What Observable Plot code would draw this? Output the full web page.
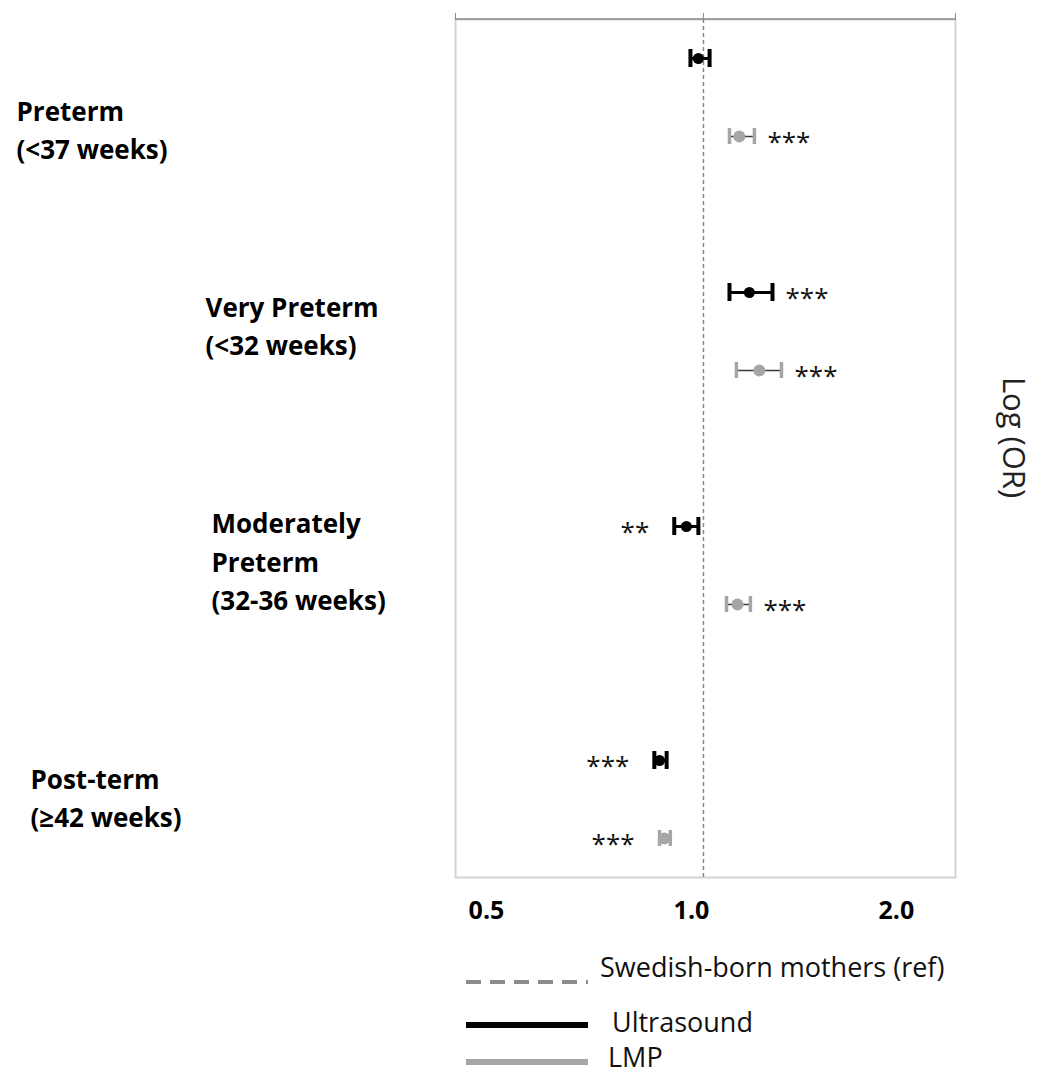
<!DOCTYPE html>
<html>
<head>
<meta charset="utf-8">
<script src="https://cdn.jsdelivr.net/npm/d3@7"></script>
<script src="https://cdn.jsdelivr.net/npm/@observablehq/plot@0.6"></script>
<style>
  html, body { margin: 0; padding: 0; background: #fff; }
  body { font-family: "Open Sans", sans-serif; width: 1042px; }
  #chart svg, #legend svg { display: block; }
</style>
</head>
<body>
<div id="chart"></div>
<div id="legend"></div>
<script>
// ---- data ----
const groups = ["Preterm", "Very Preterm", "Moderately Preterm", "Post-term"];
const groupLines = [
  ["Preterm", "(<37 weeks)"],
  ["Very Preterm", "(<32 weeks)"],
  ["Moderately", "Preterm", "(32-36 weeks)"],
  ["Post-term", "(≥42 weeks)"]
];
const methods = ["Ultrasound", "LMP"];
const orUS  = [0.983, 1.168, 0.944, 0.862];
const loUS  = [0.957, 1.092, 0.906, 0.847];
const hiUS  = [1.021, 1.263, 0.983, 0.883];
const orLMP = [1.129, 1.208, 1.122, 0.876];
const loLMP = [1.092, 1.118, 1.081, 0.862];
const hiLMP = [1.188, 1.302, 1.172, 0.894];
const sigUS  = ["", "***", "**", "***"];
const sigLMP = ["***", "***", "***", "***"];
const xTicks = [0.5, 1, 2];
const xDomain = [0.4324, 2.345];
const refValue = 1;
const axisTitle = "Log (OR)";
const legendLabels = ["Swedish-born mothers (ref)", "Ultrasound", "LMP"];

// ---- build table ----
const rows = [];
const slots = [];
groups.forEach((g, i) => {
  if (i > 0) slots.push("gap" + i);
  const series = [
    ["Ultrasound", orUS, loUS, hiUS, sigUS],
    ["LMP", orLMP, loLMP, hiLMP, sigLMP]
  ];
  series.forEach(([m, or, lo, hi, sig]) => {
    const key = g + "|" + m;
    slots.push(key);
    rows.push({group: g, method: m, key, or: or[i], lo: lo[i], hi: hi[i], sig: sig[i]});
  });
});
const us = rows.filter(d => d.method === "Ultrasound");
const lmp = rows.filter(d => d.method === "LMP");

const BLACK = "#000000";
const GREY = "#a6a6a6";
const DARK = "#3a3a3a";

// label layout offsets (px) relative to the left edge of the frame and the group's first row
const labelLayout = [
  {dx: -439, dy: 69},
  {dx: -250, dy: 31},
  {dx: -244, dy: 33},
  {dx: -425, dy: 35}
];

const marks = [
  Plot.frame({stroke: "#d3d3d3", strokeWidth: 2}),
  Plot.ruleX([refValue], {stroke: "#8a8a8a", strokeWidth: 1.5, strokeDasharray: "4,3"}),
  // Ultrasound
  Plot.ruleY(us, {y: "key", x1: "lo", x2: "hi", stroke: BLACK, strokeWidth: 3}),
  Plot.tickX(us, {x: "lo", y: "key", stroke: BLACK, strokeWidth: 4, insetTop: 30, insetBottom: 30}),
  Plot.tickX(us, {x: "hi", y: "key", stroke: BLACK, strokeWidth: 4, insetTop: 30, insetBottom: 30}),
  Plot.dot(us, {x: "or", y: "key", r: 5.5, fill: BLACK, stroke: "none"}),
  // LMP
  Plot.ruleY(lmp, {y: "key", x1: "lo", x2: "hi", stroke: DARK, strokeWidth: 1.5}),
  Plot.tickX(lmp, {x: "lo", y: "key", stroke: GREY, strokeWidth: 3.5, insetTop: 31, insetBottom: 31}),
  Plot.tickX(lmp, {x: "hi", y: "key", stroke: GREY, strokeWidth: 3.5, insetTop: 31, insetBottom: 31}),
  Plot.dot(lmp, {x: "or", y: "key", r: 6, fill: GREY, stroke: "none"}),
  // significance stars
  Plot.text(rows.filter(d => d.sig && d.or >= 1), {x: "hi", y: "key", text: "sig", textAnchor: "start", dx: 13, dy: 6, fontSize: 26, fill: "#111"}),
  Plot.text(rows.filter(d => d.sig && d.or < 1), {x: "lo", y: "key", text: "sig", textAnchor: "end", dx: -25, dy: 6, fontSize: 26, fill: "#111"}),
  // axes
  Plot.axisX({anchor: "top", ticks: [xDomain[0], 1, xDomain[1]], tickSize: 7, tickFormat: () => "", stroke: "#8c8c8c"}),
  Plot.axisX({anchor: "bottom", ticks: xTicks, tickSize: 0, tickPadding: 24, dx: -12, tickFormat: d3.format(".1f"), fontSize: 25, fontWeight: "bold", fill: BLACK}),
  Plot.text([axisTitle], {frameAnchor: "right", textAnchor: "middle", rotate: 90, dx: 57, dy: -11, fontSize: 31, fill: "#222"})
];

groups.forEach((g, i) => {
  marks.push(Plot.text([rows.find(d => d.group === g && d.method === "Ultrasound")], {
    y: "key",
    text: () => groupLines[i].join("\n"),
    frameAnchor: "left",
    textAnchor: "start",
    lineAnchor: "middle",
    lineHeight: 1.48,
    dx: labelLayout[i].dx,
    dy: labelLayout[i].dy,
    fontSize: 26,
    fontWeight: "bold",
    fill: BLACK
  }));
});

const H = 945;
const chart = Plot.plot({
  width: 1042,
  height: H,
  marginTop: 19,
  marginBottom: H - 877,
  marginLeft: 455,
  marginRight: 1042 - 955,
  style: {fontFamily: "Open Sans, sans-serif", background: "#fff", overflow: "visible"},
  x: {type: "log", domain: xDomain},
  y: {type: "band", domain: slots, padding: 0, axis: null},
  marks
});
document.getElementById("chart").appendChild(chart);

// top border line of the plotting area
const xr = chart.scale("x").range;
d3.select(chart).append("line")
  .attr("x1", xr[0]).attr("x2", xr[1])
  .attr("y1", 19).attr("y2", 19)
  .attr("stroke", "#8c8c8c").attr("stroke-width", 1.5);

// ---- legend (below the chart) ----
const lg = d3.select("#legend").append("svg").attr("width", 1042).attr("height", 133);
const legendItems = [
  {label: legendLabels[0], stroke: "#8c8c8c", width: 4, dash: "15,9", lineY: 37, textY: 32, textX: 600},
  {label: legendLabels[1], stroke: BLACK, width: 6, dash: null, lineY: 80, textY: 87, textX: 612},
  {label: legendLabels[2], stroke: GREY, width: 6, dash: null, lineY: 117, textY: 122, textX: 608}
];
legendItems.forEach(it => {
  const ln = lg.append("line").attr("x1", 466).attr("x2", 588)
    .attr("y1", it.lineY).attr("y2", it.lineY)
    .attr("stroke", it.stroke).attr("stroke-width", it.width);
  if (it.dash) ln.attr("stroke-dasharray", it.dash);
  lg.append("text").attr("x", it.textX).attr("y", it.textY)
    .attr("font-family", "Open Sans, sans-serif").attr("font-size", 27)
    .attr("fill", "#111").text(it.label);
});
</script>
</body>
</html>
